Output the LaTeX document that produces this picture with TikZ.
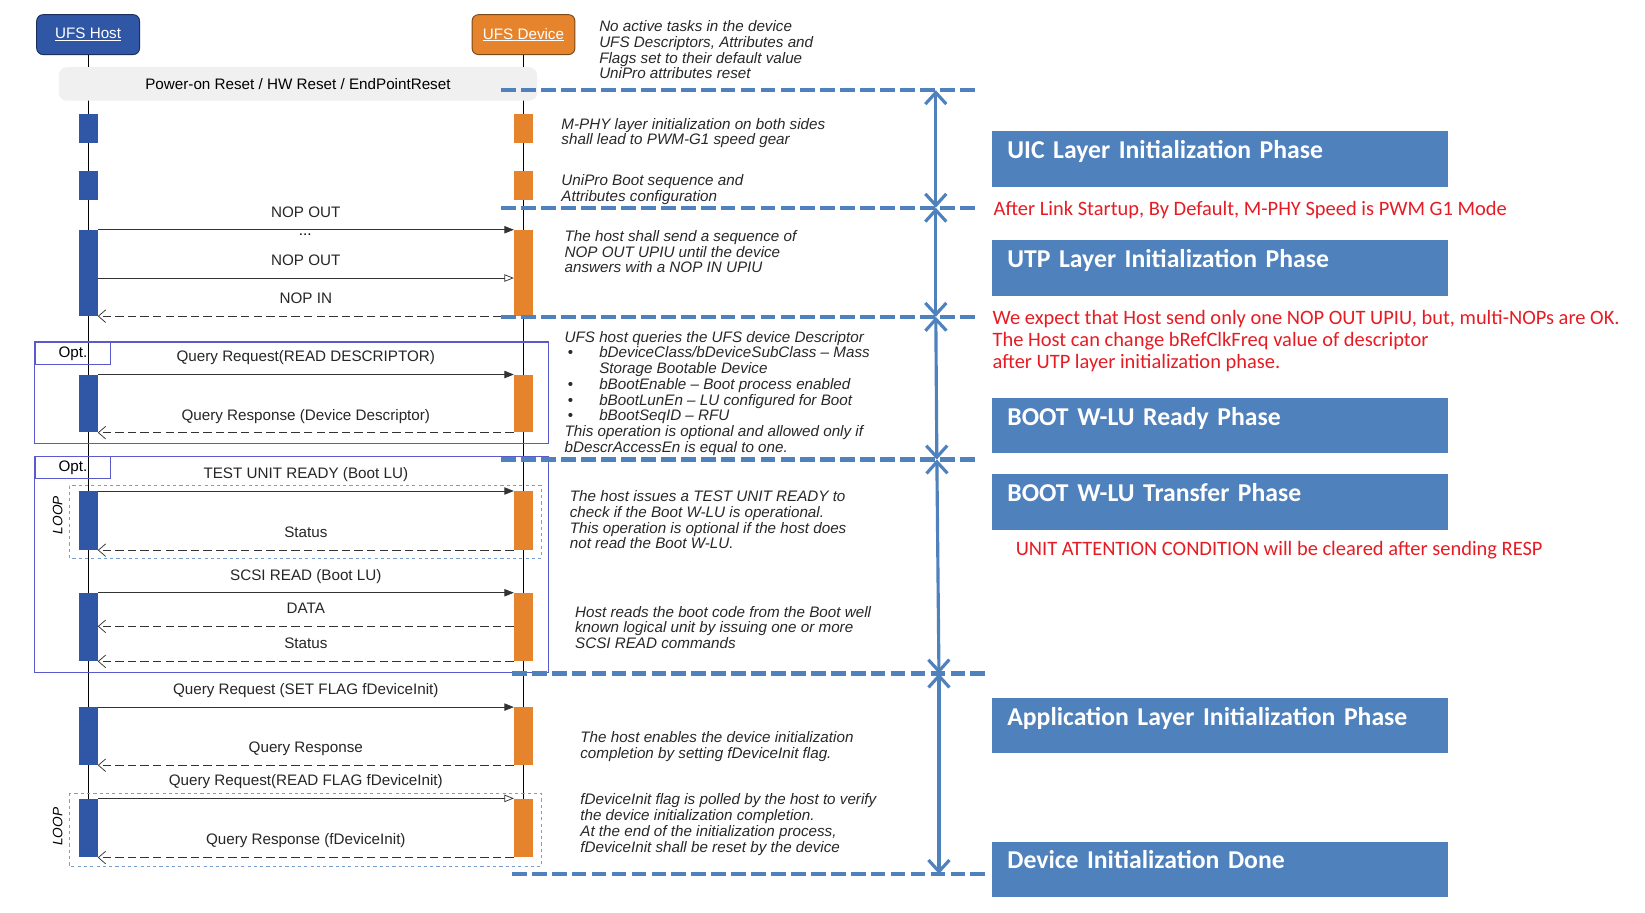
\documentclass[tikz,border=0pt]{standalone}
\usepackage{fontspec}
\setmainfont{Liberation Sans}
\newfontfamily\calibri{Carlito}
\usetikzlibrary{arrows.meta, positioning}
\definecolor{HostBlue}{RGB}{48,86,166}
\definecolor{DevOrange}{RGB}{229,132,44}
\definecolor{PhaseBlue}{RGB}{79,129,189}
\definecolor{OptViolet}{RGB}{90,90,205}
\definecolor{LoopBlue}{RGB}{120,158,210}
\definecolor{NoteRed}{RGB}{230,28,36}
\definecolor{NoteGray}{RGB}{40,40,40}
\newcommand{\NoteBullet}{\makebox[33pt][l]{\hspace{3pt}\upshape\textbullet}}

\begin{document}
\begin{tikzpicture}[
      x = 1pt, y = -1pt,
      font = \fontsize{14.5}{15}\selectfont,
      actor/.style={
        draw = #1!55!black,
        fill = #1,
        rounded corners = 6pt,
        line width = 0.9pt,
        text = white,
        minimum width = 98pt,
        minimum height = 38pt,
      },
      hbar/.style={fill = HostBlue, minimum width = 18pt, inner sep = 0pt, anchor = north},
      dbar/.style={fill = DevOrange, minimum width = 18pt, inner sep = 0pt, anchor = north},
      life/.style={draw = black, line width = 0.8pt},
      req/.style={-{Triangle[length = 9pt, width = 7pt]}, line width = 0.7pt, black!80},
      oreq/.style={-{Triangle[open, length = 9pt, width = 7pt]}, line width = 0.7pt, black!80},
      resp/.style={-{Straight Barb[length = 7pt, width = 12pt]}, dash pattern = on 8pt off 4pt,
        line width = 0.7pt, black!80},
      lbl/.style={anchor = base, yshift = 12pt, inner sep = 0pt, text = black!85},
      note/.style={anchor = north west, align = left, inner sep = 0pt, text = NoteGray,
        font = \fontsize{14.5}{15}\selectfont\itshape},
      optbox/.style={draw = OptViolet, line width = 1pt},
      loopbox/.style={draw = LoopBlue, dashed, line width = 0.8pt},
      sep/.style={draw = PhaseBlue, line width = 4pt, dash pattern = on 14pt off 5pt},
      span/.style={{Straight Barb[length = 11pt, width = 20pt]}-{Straight Barb[length = 11pt, width = 20pt]},
        draw = PhaseBlue, line width = 3pt},
      phase/.style={
        fill = PhaseBlue,
        anchor = north west,
        text width = 405pt,
        inner xsep = 15pt,
        inner ysep = 9pt,
        text height = 17pt,
        text depth = 18pt,
        text = white,
        font = \calibri\bfseries\fontsize{24.5}{28}\selectfont,
      },
      remark/.style={anchor = north west, align = left, inner sep = 0pt, text = NoteRed,
        font = \calibri\fontsize{19.5}{21}\selectfont},
    ]
    \useasboundingbox[fill = white] (0,0) rectangle (1568,870);

    \node[actor = HostBlue] (host) at (84,33) {\underline{UFS Host}};
    \node[actor = DevOrange] (dev) at (499,33) {\underline{UFS Device}};
    \coordinate (hostend) at (84,817);
    \coordinate (devend) at (499,817);
    \draw[life] (host) -- (hostend);
    \draw[life] (dev) -- (devend);

    \node[fill = black!6, rounded corners = 8pt, minimum width = 456pt, minimum height = 32pt]
      (reset) at (284,80) {Power-on Reset / HW Reset / EndPointReset};

    \node[hbar, minimum height = 28pt] (h1) at (84,108) {};
    \node[dbar, minimum height = 28pt] (d1) at (499,108) {};
    \node[hbar, minimum height = 27pt] (h2) at (84,163) {};
    \node[dbar, minimum height = 27pt] (d2) at (499,163) {};
    \node[hbar, minimum height = 82pt] (h3) at (84,219) {};
    \node[dbar, minimum height = 82pt] (d3) at (499,219) {};
    \node[hbar, minimum height = 55pt] (h4) at (84,357) {};
    \node[dbar, minimum height = 55pt] (d4) at (499,357) {};
    \node[hbar, minimum height = 56pt] (h5) at (84,468) {};
    \node[dbar, minimum height = 56pt] (d5) at (499,468) {};
    \node[hbar, minimum height = 65pt] (h6) at (84,565) {};
    \node[dbar, minimum height = 65pt] (d6) at (499,565) {};
    \node[hbar, minimum height = 55pt] (h7) at (84,674) {};
    \node[dbar, minimum height = 55pt] (d7) at (499,674) {};
    \node[hbar, minimum height = 56pt] (h8) at (84,761) {};
    \node[dbar, minimum height = 56pt] (d8) at (499,761) {};

    \draw[req] (h3.north east) -- node[lbl] (nopout1) {NOP OUT} (d3.north west);
    \node (dots) at (291,224) {...};
    \draw[oreq] (h3.east |- 0,265) -- node[lbl] (nopout2) {NOP OUT} (d3.west |- 0,265);
    \draw[resp] (d3.south west) -- node[lbl] (nopin) {NOP IN} (h3.south east);

    \draw[req] (h4.north east) -- node[lbl] (readdesc) {Query Request(READ DESCRIPTOR)} (d4.north west);
    \draw[resp] (d4.south west) -- node[lbl] (descresp) {Query Response (Device Descriptor)} (h4.south east);

    \draw[req] (h5.north east) -- node[lbl] (tur) {TEST UNIT READY (Boot LU)} (d5.north west);
    \draw[resp] (d5.south west) -- node[lbl] (status1) {Status} (h5.south east);

    \draw[req] (h6.north east) -- node[lbl] (scsiread) {SCSI READ (Boot LU)} (d6.north west);
    \draw[resp] (d6.west |- 0,597) -- node[lbl] (data) {DATA} (h6.east |- 0,597);
    \draw[resp] (d6.south west) -- node[lbl] (status2) {Status} (h6.south east);

    \draw[req] (h7.north east) -- node[lbl] (setflag) {Query Request (SET FLAG fDeviceInit)} (d7.north west);
    \draw[resp] (d7.south west) -- node[lbl] (flagresp) {Query Response} (h7.south east);

    \draw[oreq] (h8.north east) -- node[lbl] (readflag) {Query Request(READ FLAG fDeviceInit)} (d8.north west);
    \draw[resp] (d8.south west) -- node[lbl] (initresp) {Query Response (fDeviceInit)} (h8.south east);

    \draw[optbox] (33,326) rectangle (523,423);
    \node[optbox, anchor = north west, minimum width = 72pt, minimum height = 21pt, inner sep = 0pt]
      (opt1) at (33,326) {Opt.};
    \draw[optbox] (33,435) rectangle (523,641);
    \node[optbox, anchor = north west, minimum width = 72pt, minimum height = 21pt, inner sep = 0pt]
      (opt2) at (33,435) {Opt.};

    \draw[loopbox] (66,463) rectangle (516,532);
    \node[rotate = 90, font = \fontsize{13}{13}\selectfont\itshape] (loop1) at (55,491) {LOOP};
    \draw[loopbox] (66,756) rectangle (516,826);
    \node[rotate = 90, font = \fontsize{13}{13}\selectfont\itshape] (loop2) at (55,788) {LOOP};

    \node[note] (n0) at (571,19.5) {No active tasks in the device\\UFS Descriptors, Attributes and\\Flags set to their default value\\UniPro attributes reset};
    \node[note] (n1) at (535,112.5) {M-PHY layer initialization on both sides\\shall lead to PWM-G1 speed gear};
    \node[note] (n2) at (535,166.5) {UniPro Boot sequence and\\Attributes configuration};
    \node[note] (n3) at (538,219.5) {The host shall send a sequence of\\NOP OUT UPIU until the device\\answers with a NOP IN UPIU};
    \node[note] (n4) at (538,315.5) {UFS host queries the UFS device Descriptor\\
      \NoteBullet bDeviceClass/bDeviceSubClass – Mass\\
      \hspace*{33pt}Storage Bootable Device\\
      \NoteBullet bBootEnable – Boot process enabled\\
      \NoteBullet bBootLunEn – LU configured for Boot\\
      \NoteBullet bBootSeqID – RFU\\
      This operation is optional and allowed only if\\
      bDescrAccessEn is equal to one.};
    \node[note] (n5) at (543,467.5) {The host issues a TEST UNIT READY to\\check if the Boot W-LU is operational.\\This operation is optional if the host does\\not read the Boot W-LU.};
    \node[note] (n6) at (548,577.5) {Host reads the boot code from the Boot well\\known logical unit by issuing one or more\\SCSI READ commands};
    \node[note] (n7) at (553,697.5) {The host enables the device initialization\\completion by setting fDeviceInit flag.};
    \node[note] (n8) at (553,756.5) {fDeviceInit flag is polled by the host to verify\\the device initialization completion.\\At the end of the initialization process,\\fDeviceInit shall be reset by the device};

    \draw[sep] (478,86) -- (932,86);
    \draw[sep] (478,198) -- (932,198);
    \draw[sep] (478,302) -- (932,302);
    \draw[sep] (478,438) -- (932,438);
    \draw[sep] (488,642) -- (942,642);
    \draw[sep] (488,833) -- (942,833);
    \coordinate (t0) at (892,86);
    \coordinate (t1) at (892,198);
    \coordinate (t2) at (892,302);
    \coordinate (t3) at (893,438);
    \coordinate (t4) at (895,642);
    \coordinate (t5) at (895,833);
    \draw[span] (t0) -- (t1);
    \draw[span] (t1) -- (t2);
    \draw[span] (t2) -- (t3);
    \draw[span] (t3) -- (t4);
    \draw[span] (t4) -- (t5);

    \node[phase] (uic) at (945,125) {UIC Layer Initialization Phase};
    \node[phase] (utp) at (945,229) {UTP Layer Initialization Phase};
    \node[phase] (ready) at (945,379) {BOOT W-LU Ready Phase};
    \node[phase] (xfer) at (945,452) {BOOT W-LU Transfer Phase};
    \node[phase] (app) at (945,665) {Application Layer Initialization Phase};
    \node[phase] (done) at (945,802) {Device Initialization Done};

    \node[remark] (r1) at (947,191.5) {After Link Startup, By Default, M-PHY Speed is PWM G1 Mode};
    \node[remark] (r2) at (946,295.5) {We expect that Host send only one NOP OUT UPIU, but, multi-NOPs are OK.\\The Host can change bRefClkFreq value of descriptor\\after UTP layer initialization phase.};
    \node[remark] (r3) at (968,515.5) {UNIT ATTENTION CONDITION will be cleared after sending RESP};
  \end{tikzpicture}
\end{document}
